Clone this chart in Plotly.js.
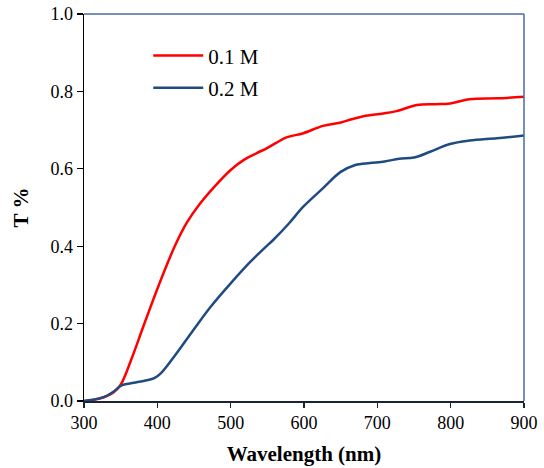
<!DOCTYPE html>
<html>
<head>
<meta charset="utf-8">
<script src="https://cdn.plot.ly/plotly-3.0.1.min.js"></script>
<style>html,body{margin:0;padding:0;background:#fff;}#chart{width:544px;height:468px;}</style>
</head>
<body>
<div id="chart"></div>
<script>
// Wavelength (nm) and transmittance values
const redX = [300, 310, 320, 330, 340, 350, 365, 380, 395, 410, 425, 440, 457, 477, 500, 518, 535, 549, 562, 576, 599, 626, 649, 665, 681, 708, 726, 754, 780, 799, 826, 863, 900];
const redY = [0.000, 0.002, 0.006, 0.012, 0.022, 0.042, 0.110, 0.188, 0.265, 0.338, 0.405, 0.460, 0.507, 0.552, 0.597, 0.623, 0.640, 0.653, 0.667, 0.681, 0.692, 0.711, 0.719, 0.728, 0.736, 0.743, 0.749, 0.765, 0.767, 0.769, 0.780, 0.782, 0.786];
const blueX = [300, 312, 327, 340, 352, 368, 384, 396, 405, 423, 446, 473, 500, 527, 546, 558, 580, 599, 626, 650, 670, 690, 710, 730, 750, 772, 799, 826, 863, 900];
const blueY = [0.000, 0.003, 0.010, 0.024, 0.041, 0.047, 0.053, 0.059, 0.072, 0.115, 0.175, 0.244, 0.304, 0.360, 0.395, 0.416, 0.460, 0.502, 0.550, 0.592, 0.610, 0.615, 0.619, 0.626, 0.629, 0.644, 0.664, 0.673, 0.679, 0.686];
const seriesNames = ['0.1 M', '0.2 M'];
const xTicks = [300, 400, 500, 600, 700, 800, 900];
const yTicks = [0, 0.2, 0.4, 0.6, 0.8, 1.0];

const serif = "'Liberation Serif', 'Times New Roman', serif";
const traces = [
  {x: redX, y: redY, name: seriesNames[0], mode: 'lines', legendgroup: 'a',
   line: {color: '#ff0000', width: 2.5, shape: 'spline', smoothing: 1.0}},
  {x: blueX, y: blueY, name: seriesNames[1], mode: 'lines', legendgroup: 'b',
   line: {color: '#1f4b82', width: 2.5, shape: 'spline', smoothing: 1.0}}
];
const layout = {
  width: 544, height: 468,
  margin: {l: 84, r: 20, t: 14, b: 67},
  paper_bgcolor: '#fff', plot_bgcolor: '#fff',
  font: {family: serif, color: '#000', size: 18},
  showlegend: true,
  legend: {x: 0.146, y: 0.945, xanchor: 'left', yanchor: 'top', bgcolor: 'rgba(0,0,0,0)',
           font: {family: serif, size: 21, color: '#000'}, tracegroupgap: 2, traceorder: 'grouped', itemwidth: 50},
  xaxis: {range: [300, 900], tickvals: xTicks, ticktext: xTicks.map(String),
          ticks: 'outside', ticklen: 5, tickwidth: 1.2, tickcolor: '#1a2433',
          showline: true, linecolor: '#1a2433', linewidth: 1.5, showgrid: false, zeroline: false,
          tickfont: {family: serif, size: 18},
          title: {text: '<b>Wavelength (nm)</b>', font: {family: serif, size: 21}, standoff: 14}},
  yaxis: {range: [0, 1], tickvals: yTicks, ticktext: yTicks.map(v => v.toFixed(1)),
          ticks: 'outside', ticklen: 6, tickwidth: 1.2, tickcolor: '#000',
          showline: true, linecolor: '#000', linewidth: 1.5, showgrid: false, zeroline: false,
          tickfont: {family: serif, size: 18},
          title: {text: '<b>T %</b>', font: {family: serif, size: 21}, standoff: 16}},
  shapes: [
    {type: 'line', xref: 'x domain', yref: 'y domain', x0: 0, x1: 1, y0: 1, y1: 1, line: {color: '#4a6c9e', width: 1.5}},
    {type: 'line', xref: 'x domain', yref: 'y domain', x0: 1, x1: 1, y0: 0, y1: 1, line: {color: '#4a6c9e', width: 1.5}}
  ]
};
Plotly.newPlot('chart', traces, layout, {displayModeBar: false, staticPlot: true});
</script>
</body>
</html>
